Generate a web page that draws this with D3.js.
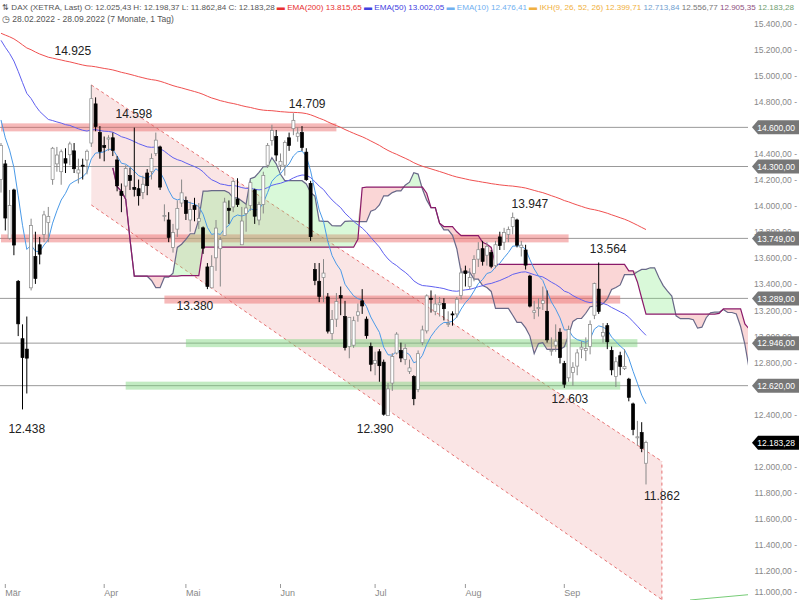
<!DOCTYPE html>
<html><head><meta charset="utf-8">
<script src="https://cdn.jsdelivr.net/npm/d3@7"></script>
<style>body{margin:0;background:#fff}text{font-family:"Liberation Sans",Arial,sans-serif}</style>
</head><body><svg id="c" width="800" height="600"></svg>
<script>
const opens=[14200,14320,13750,14120,13420,12980,12900,13370,13610,13700,13780,13870,14200,14320,14260,14360,14390,14420,14250,14310,14350,14480,14780,14560,
14460,14510,14520,14350,14110,14150,14230,14140,14130,14100,14250,14260,14400,14450,13920,13890,13680,13820,14020,
14040,13890,14000,13880,13830,13530,13370,13600,13670,13770,13980,13990,14050,13700,13940,14000,14120,13890,14010,14310,14500,14530,
14310,14310,14520,14590,14530,14560,14410,14170,13510,13420,13450,13300,13020,13130,13310,13150,12920,12930,13160,13270,13130,12920,
12790,12880,12800,12390,12640,12870,12890,12820,12730,12690,12590,12950,13040,13290,13190,13240,13250,13090,13170,13170,13310,
13500,13380,13480,13590,13670,13620,13640,13540,13760,13720,13780,13840,13890,13680,13660,13460,13180,13210,13250,13190,12890,12930,13030,
12790,12680,12720,12770,12900,12890,12920,13160,13360,13000,13080,12890,12690,12850,12750,12670,12480,12220,12260,12025.43];
const highs=[14480,14350,14120,14130,13430,13090,13150,13900,13800,13760,13960,13990,14450,14450,14430,14440,14490,14480,14360,14360,14430,14925,14830,14610,
14530,14540,14560,14380,14170,14310,14290,14598,14200,14230,14280,14400,14560,14460,14010,13950,13860,14040,14200,
14070,14030,14060,14020,13840,13560,13620,13890,13760,14060,14040,14200,14210,13990,14020,14190,14130,14030,14260,14480,14620,14580,
14400,14500,14560,14709,14600,14610,14440,14190,13560,13560,13590,13330,13200,13330,13380,13270,12990,13150,13250,13360,13150,12950,
12880,12900,12820,12640,12870,13030,12950,12940,12820,12700,12890,13080,13320,13350,13320,13300,13290,13190,13190,13300,13520,
13540,13520,13620,13720,13730,13720,13660,13730,13800,13830,13840,13947,13900,13730,13700,13470,13270,13290,13380,13350,12990,13090,13060,
12810,13080,12800,12900,12960,12990,13120,13410,13564,13100,13100,12920,12840,12880,12900,12680,12490,12350,12340,12198.37];
const lows=[14100,13810,13740,13620,13000,12438,12560,13350,13400,13550,13720,13720,14160,14260,14160,14250,14310,14250,14170,14200,14240,14450,14570,14360,
14340,14420,14380,14110,13950,14060,14120,14070,14000,14050,14080,14200,14380,14120,13880,13720,13640,13760,13990,
13890,13800,13880,13820,13630,13360,13380,13500,13380,13770,13860,13950,13990,13700,13800,13960,13860,13850,13940,14290,14460,14340,
14270,14230,14420,14540,14490,14420,14190,13730,13390,13260,13260,13020,12970,13070,13160,12890,12830,12910,13110,13170,12980,12730,
12700,12650,12390,12400,12580,12860,12800,12780,12710,12470,12570,12930,13020,13180,13160,13150,13120,13070,13080,13140,13280,
13380,13360,13420,13530,13540,13540,13520,13520,13660,13660,13720,13780,13680,13610,13510,13220,13130,13150,13200,12950,12850,12880,12790,
12603,12650,12620,12700,12830,12810,12860,13130,13170,12950,12900,12700,12610,12700,12740,12500,12240,12160,12110,11862.84];
const closes=[14461,13905,14000,13698,13094,12835,12831,13847,13442,13628,13929,13918,14440,14388,14413,14326,14473,14283,14274,14306,14417,14820,14606,14415,
14446,14519,14424,14152,14078,14284,14193,14125,14076,14164,14153,14362,14502,14142,13924,13757,13793,13979,14098,
13940,13971,13970,13902,13674,13381,13534,13828,13739,14027,13964,14186,14008,13882,13982,14176,13919,14008,14231,14462,14575,14388,
14340,14485,14461,14654,14556,14446,14199,13762,13427,13304,13483,13038,13126,13265,13292,12912,13144,13118,13186,13231,13003,12784,
12813,12773,12401,12595,12843,13015,12832,12905,12756,12520,12865,13047,13308,13282,13246,13254,13210,13097,13166,13282,13484,
13479,13449,13587,13662,13573,13688,13535,13700,13694,13795,13817,13910,13697,13697,13544,13230,13194,13220,13271,12971,12892,12961,12835,
12631,13050,12761,12871,12915,12904,13088,13402,13189,13028,12956,12741,12803,12767,12767,12531,12284,12228,12139,12183.28];
const monthLabels=["Mär","Apr","Mai","Jun","Jul","Aug","Sep"];
const monthStart=[1,24,43,65,87,108,131];
const yTicks=[15400,15200,15000,14800,14400,14200,14000,13800,13600,13400,13200,13000,12800,12400,12000,11800,11600,11400,11200,11000];
const levels=[14600,14300,13749,13289,12946,12620];
const redBands=[[14600,0,78],[13749,0,132],[13280,38,144]];
const greenBands=[[12946,43,148],[12620,29,144]];
const annotations=[[16.7,15153,"14.925"],[30.9,14670,"14.598"],[71.2,14747,"14.709"],[45.1,13199,"13.380"],[6.0,12257,"12.438"],[87,12257,"12.390"],[123,13981,"13.947"],[141.2,13636,"13.564"],[132.3,12487,"12.603"],[153.7,11743,"11.862"]];
const channel=[[21,14925],[153.7,12040],[21,14005],[153.7,10980]];
const ema200Seed=15330, ema50Seed=15300, ema10Seed=14700;

const svg=d3.select("#c");
const x=d3.scaleLinear().domain([0,150]).range([1,646]);
const y=d3.scaleLinear().domain([11000,15400]).range([597,23]);
const N=closes.length;
const fmt=v=>d3.format(",.2f")(v).replace(/,/g,"#").replace(".",",").replace(/#/g,".");
svg.append("defs").append("clipPath").attr("id","pc").append("rect").attr("x",0).attr("y",0).attr("width",748).attr("height",600);
const g=svg.append("g").attr("clip-path","url(#pc)");

const [u0,u1,l0,l1]=channel;
g.append("path").attr("d",`M${x(u0[0])},${y(u0[1])}L${x(u1[0])},${y(u1[1])}L${x(l1[0])},${y(l1[1])}L${x(l0[0])},${y(l0[1])}Z`).attr("fill","rgba(235,150,150,0.25)");
[[u0,u1],[l0,l1],[l1,u1]].forEach(([a,b])=>g.append("line").attr("x1",x(a[0])).attr("y1",y(a[1])).attr("x2",x(b[0])).attr("y2",y(b[1])).attr("stroke","#e05050").attr("stroke-dasharray","3,3").attr("stroke-width",0.8));

levels.forEach(v=>g.append("line").attr("x1",0).attr("x2",748).attr("y1",y(v)).attr("y2",y(v)).attr("stroke","#999").attr("stroke-width",1));
redBands.forEach(([v,a,b])=>g.append("rect").attr("x",x(a)).attr("width",x(b)-x(a)).attr("y",y(v)-4).attr("height",8).attr("fill","rgba(235,100,100,0.45)"));
greenBands.forEach(([v,a,b])=>g.append("rect").attr("x",x(a)).attr("width",x(b)-x(a)).attr("y",y(v)-4).attr("height",8).attr("fill","rgba(120,210,120,0.45)"));

const mid=(i,n)=>{const s=Math.max(0,i-n+1);return (d3.max(highs.slice(s,i+1))+d3.min(lows.slice(s,i+1)))/2;};
const cloud=[];
for(let i=0;i<N;i++){const a=(mid(i,9)+mid(i,26))/2,b=mid(i,52);cloud.push({i:i+26,a,b});}
const cl=cloud.filter(d=>d.i>=14);
g.append("path").datum(cl).attr("fill","rgba(240,120,120,0.3)").attr("d",d3.area().x(d=>x(d.i)).y0(d=>y(d.a)).y1(d=>y(Math.max(d.a,d.b))));
g.append("path").datum(cl).attr("fill","rgba(130,235,130,0.3)").attr("d",d3.area().x(d=>x(d.i)).y0(d=>y(d.b)).y1(d=>y(Math.max(d.a,d.b))));
g.append("path").datum(cl).attr("fill","none").attr("stroke","#686888").attr("stroke-width",1.2).attr("d",d3.line().x(d=>x(d.i)).y(d=>y(d.a)));
g.append("path").datum(cl).attr("fill","none").attr("stroke","#8a1a6a").attr("stroke-width",1.2).attr("d",d3.line().x(d=>x(d.i)).y(d=>y(d.b)));

const ema=(seed,n)=>{const k=2/(n+1);let e=seed;return closes.map(c=>(e=e+k*(c-e)));};
[[ema200Seed,200,"#f05050"],[ema50Seed,50,"#6060f0"],[ema10Seed,10,"#4a9ae8"]].forEach(([s,n,col])=>{
 g.append("path").datum(ema(s,n)).attr("fill","none").attr("stroke",col).attr("stroke-width",1).attr("d",d3.line().x((d,i)=>x(i)).y(d=>y(d)));
});

const cw=3;
for(let i=0;i<N;i++){
 const up=closes[i]>=opens[i];
 g.append("line").attr("x1",x(i)).attr("x2",x(i)).attr("y1",y(highs[i])).attr("y2",y(lows[i])).attr("stroke",up?"#888":"#000").attr("stroke-width",1);
 const t=y(Math.max(opens[i],closes[i])),b=y(Math.min(opens[i],closes[i]));
 g.append("rect").attr("x",x(i)-cw/2).attr("y",t).attr("width",cw).attr("height",Math.max(1,b-t)).attr("fill",up?"#fff":"#000").attr("stroke",up?"#888":"#000").attr("stroke-width",0.7);
}
g.append("line").attr("x1",690).attr("y1",600).attr("x2",800).attr("y2",590).attr("stroke","#7c7").attr("stroke-width",1);

annotations.forEach(([i,v,t])=>svg.append("text").attr("x",x(i)).attr("y",y(v)).attr("text-anchor","middle").attr("font-size",12).attr("fill","#222").text(t));

yTicks.forEach(v=>svg.append("text").attr("x",797).attr("y",Math.min(y(v)+3.5,595)).attr("text-anchor","end").attr("font-size",8.5).attr("fill","#888").text(fmt(v)+" -"));
const box=(v,col)=>{const yy=y(v);svg.append("path").attr("d",`M752,${yy}L758,${yy-7}L799,${yy-7}L799,${yy+7}L758,${yy+7}Z`).attr("fill",col);
 svg.append("text").attr("x",795).attr("y",yy+3.2).attr("text-anchor","end").attr("font-size",8.5).attr("fill","#fff").text(fmt(v));};
levels.forEach(v=>box(v,"#777"));
box(closes[N-1],"#000");

monthLabels.forEach((m,k)=>{const xx=x(monthStart[k]);svg.append("line").attr("x1",xx).attr("x2",xx).attr("y1",584).attr("y2",588).attr("stroke","#999");
 svg.append("text").attr("x",xx).attr("y",596).attr("font-size",9).attr("fill","#888").text(m);});

const h=svg.append("text").attr("x",2).attr("y",10).attr("font-size",8).attr("textLength",792).attr("lengthAdjust","spacingAndGlyphs");
const parts=[["⇅ DAX (XETRA, Last) O: 12.025,43 H: 12.198,37 L: 11.862,84 C: 12.183,28  ","#555"],["▬ EMA(200) 13.815,65  ","#e83030"],["▬ EMA(50) 13.002,05  ","#4040e0"],["▬ EMA(10) 12.476,41  ","#70b0f0"],["▬ IKH(9, 26, 52, 26) 12.399,71  ","#f0b040"],["12.713,84  ","#70a0d0"],["12.556,77  ","#777"],["12.905,35  ","#905080"],["12.183,28","#70a070"]];
parts.forEach(([t,c])=>h.append("tspan").attr("fill",c).text(t));
svg.append("text").attr("x",2).attr("y",22).attr("font-size",8.5).attr("fill","#555").text("◷ 28.02.2022 - 28.09.2022  (7 Monate, 1 Tag)");
</script></body></html>
